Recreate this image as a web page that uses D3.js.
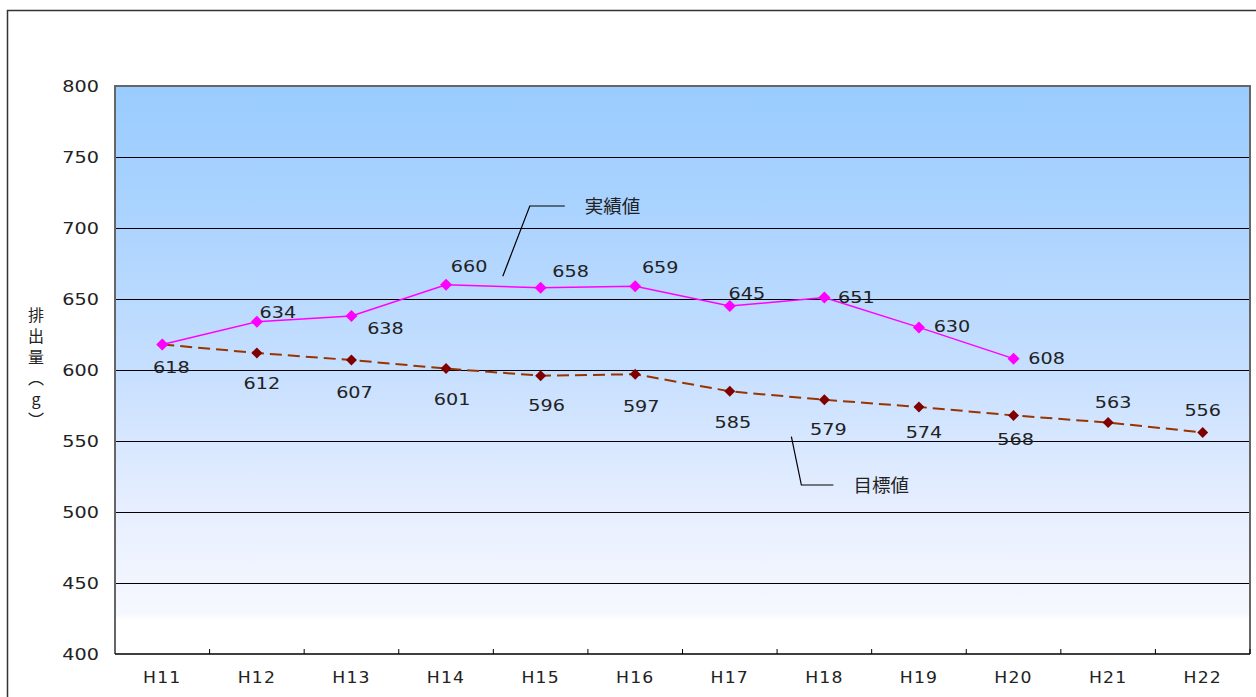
<!DOCTYPE html>
<html><head><meta charset="utf-8">
<script src="https://cdn.jsdelivr.net/npm/d3@7"></script>
<style>
html,body{margin:0;padding:0;background:#fff;}
svg{display:block;}
text{font-family:"DejaVu Sans","Noto Sans CJK JP",sans-serif;fill:#222;}
.jp{font-family:"Noto Sans CJK JP",sans-serif;}
</style></head>
<body>
<script>
const categories = ["H11","H12","H13","H14","H15","H16","H17","H18","H19","H20","H21","H22"];
const actualValues = [618,634,638,660,658,659,645,651,630,608];
const targetValues = [618,612,607,601,596,597,585,579,574,568,563,556];
const yTicks = [400,450,500,550,600,650,700,750,800];
const actualName = "実績値";
const targetName = "目標値";
const yTitle = "排出量（g）";

// label offsets (pixels) relative to each point
const actualLabelOffsets = [[9,23],[21,-9],[34,12],[23,-18],[30,-16],[25,-19],[17,-13],[32,0],[33,-1],[33,0]];
const targetLabelOffsets = [null,[5,31],[3,32],[6,31],[6,30],[6,32],[3,31],[4,30],[5,26],[2,24],[5,-20],[0,-22]];

const W = 1256, H = 697;
const m = {left:115, top:86, right:1250, bottom:654};
const SX = 1.28; // horizontal stretch of numeric text

const svg = d3.select("body").append("svg").attr("width",W).attr("height",H);

// outer frame
svg.append("rect").attr("x",7.5).attr("y",10.5).attr("width",1270).attr("height",720)
  .attr("fill","#fff").attr("stroke","#333").attr("stroke-width",1.5);

const x = d3.scaleBand().domain(categories).range([m.left,m.right]);
const y = d3.scaleLinear().domain([400,800]).range([m.bottom,m.top]);

const defs = svg.append("defs");
const grad = defs.append("linearGradient").attr("id","bg").attr("x1",0).attr("y1",0).attr("x2",0).attr("y2",1);
[["0%","#99CCFF"],["25%","#ADD4FF"],["50%","#C6DFFF"],["72%","#E4EDFF"],["93%","#F7F8FF"],["94%","#FFFFFF"],["100%","#FFFFFF"]]
  .forEach(([o,c])=>grad.append("stop").attr("offset",o).attr("stop-color",c));

svg.append("rect").attr("x",m.left).attr("y",m.top).attr("width",m.right-m.left).attr("height",m.bottom-m.top)
  .attr("fill","url(#bg)");

// gridlines
svg.append("g").selectAll("line").data(yTicks.filter(d=>d>400 && d<800)).join("line")
  .attr("x1",m.left).attr("x2",m.right).attr("y1",d=>Math.round(y(d))+0.5).attr("y2",d=>Math.round(y(d))+0.5)
  .attr("stroke","#000").attr("stroke-width",1);

// plot border (gray) top/left/right
svg.append("path").attr("d",`M${m.left},${m.bottom} V${m.top} H${m.right} V${m.bottom}`)
  .attr("fill","none").attr("stroke","#666").attr("stroke-width",2);

function numText(g, px, py, anchor, txt){
  return g.append("text").attr("transform",`translate(${px},${py}) scale(${SX},1)`)
    .attr("text-anchor",anchor).attr("font-size",15).text(txt);
}

// y axis labels
const yl = svg.append("g");
yTicks.forEach(d=>numText(yl, 99, y(d)+5.5, "end", d));

// x axis
svg.append("line").attr("x1",m.left).attr("x2",m.right).attr("y1",m.bottom).attr("y2",m.bottom)
  .attr("stroke","#000").attr("stroke-width",1.5);
const tickXs = categories.slice(1).map(c=>x(c)).concat([m.right]);
svg.append("g").selectAll("line").data(tickXs).join("line")
  .attr("x1",d=>d).attr("x2",d=>d)
  .attr("y1",m.bottom-5).attr("y2",m.bottom).attr("stroke","#000").attr("stroke-width",1);
const xl = svg.append("g");
categories.forEach(c=>xl.append("text")
  .attr("transform",`translate(${x(c)+x.bandwidth()/2},${683}) scale(1.15,1)`)
  .attr("text-anchor","middle").attr("font-size",15).attr("letter-spacing",1).text(c));

// y title (vertical, upright)
svg.append("text").attr("class","jp")
  .attr("x",36).attr("y",307)
  .style("writing-mode","vertical-rl").style("text-orientation","upright")
  .attr("font-size",16).attr("letter-spacing",5).text(yTitle);

const cx = d => x(d)+x.bandwidth()/2;

// target series
const tData = categories.map((c,i)=>({c,v:targetValues[i],i})).filter(d=>d.v!=null);
svg.append("path").datum(tData)
  .attr("d",d3.line().x(d=>cx(d.c)).y(d=>y(d.v)))
  .attr("fill","none").attr("stroke","#993300").attr("stroke-width",2).attr("stroke-dasharray","12,6");
svg.append("g").selectAll("path").data(tData).join("path")
  .attr("d",d3.symbol().type(d3.symbolSquare).size(60)())
  .attr("transform",d=>`translate(${cx(d.c)},${y(d.v)}) rotate(45)`)
  .attr("fill","#800000");

// actual series
const aData = categories.map((c,i)=>({c,v:actualValues[i],i})).filter(d=>d.v!=null);
svg.append("path").datum(aData)
  .attr("d",d3.line().x(d=>cx(d.c)).y(d=>y(d.v)))
  .attr("fill","none").attr("stroke","#FF00FF").attr("stroke-width",1.5);
svg.append("g").selectAll("path").data(aData).join("path")
  .attr("d",d3.symbol().type(d3.symbolSquare).size(72)())
  .attr("transform",d=>`translate(${cx(d.c)},${y(d.v)}) rotate(45)`)
  .attr("fill","#FF00FF");

// data labels
const dl = svg.append("g");
aData.forEach(d=>numText(dl, cx(d.c)+actualLabelOffsets[d.i][0], y(d.v)+actualLabelOffsets[d.i][1]+5.5, "middle", d.v));
tData.filter(d=>targetLabelOffsets[d.i]).forEach(d=>numText(dl, cx(d.c)+targetLabelOffsets[d.i][0], y(d.v)+targetLabelOffsets[d.i][1]+5.5, "middle", d.v));

// callouts
function callout(px,py,kx,ky,ex,label,tx){
  svg.append("path").attr("d",`M${px},${py} L${kx},${ky} H${ex}`).attr("fill","none").attr("stroke","#000").attr("stroke-width",1.2);
  svg.append("text").attr("class","jp").attr("x",tx).attr("y",ky+7).attr("font-size",18.5).text(label);
}
const aAnchorX = cx("H14") + 0.6*x.bandwidth(), aAnchorY = y(666);
callout(aAnchorX, aAnchorY, aAnchorX+27, y(715.5), aAnchorX+62, actualName, aAnchorX+82);
const tAnchorX = cx("H18") - 33, tAnchorY = y(553);
callout(tAnchorX, tAnchorY, tAnchorX+10, y(519), tAnchorX+42, targetName, tAnchorX+62);
</script>
</body></html>
